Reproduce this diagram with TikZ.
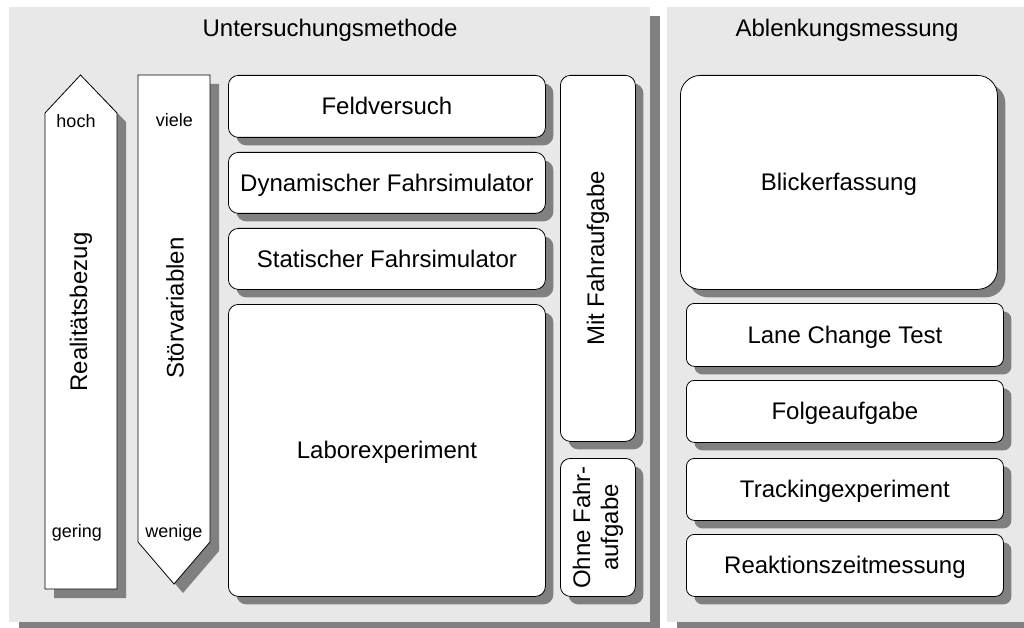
\documentclass[tikz,border=0pt]{standalone}
\usepackage{fontspec}
\setmainfont{Liberation Sans}
\usetikzlibrary{shadows}
\definecolor{panelgray}{HTML}{E8E8E8}
\definecolor{shadowgray}{HTML}{808080}

\begin{document}
\begin{tikzpicture}[x=1pt,y=-1pt,
  font=\fontsize{24}{28}\selectfont,
  boxshadow/.style={drop shadow={shadow xshift=8pt,shadow yshift=-8pt,fill=shadowgray,opacity=1}},
  panel/.style={fill=panelgray,drop shadow={shadow xshift=10pt,shadow yshift=-9pt,fill=shadowgray,opacity=1}},
  box/.style={draw=black,line width=0.8pt,fill=white,rounded corners=10pt,
    anchor=north west,inner sep=0pt,boxshadow,text height=17pt,text depth=0pt},
  arrowbody/.style={draw=black,line width=0.8pt,fill=white,
    drop shadow={shadow xshift=9pt,shadow yshift=-9pt,fill=shadowgray,opacity=1}},
  vtext/.style={rotate=90,align=center},
  small/.style={font=\fontsize{18}{21}\selectfont,anchor=base}
]
\useasboundingbox (0,0) rectangle (1024,628);

% background panels
\path[panel] (9,7) rectangle (650,622);
\path[panel] (667,7) rectangle (1030,622);

\node[anchor=base] (titleL) at (330,36.7) {Untersuchungsmethode};
\node[anchor=base] (titleR) at (847,36.7) {Ablenkungsmessung};

% scale arrows
\path[arrowbody] (45,589) -- (45,113) -- (80.5,75) -- (117,113) -- (117,589) -- cycle;
\path[arrowbody] (138,75) -- (210,75) -- (210,542) -- (174,584) -- (138,542) -- cycle;

\node[small] (hoch) at (76,128) {hoch};
\node[small] (gering) at (77,537) {gering};
\node[small] (viele) at (174.5,127) {viele};
\node[small] (wenige) at (174,537) {wenige};
\node[vtext] (real) at (81,312) {Realitätsbezug};
\node[vtext] (stoer) at (175,308) {Störvariablen};

% study methods
\node[box,minimum width=317pt,minimum height=62pt] (feld) at (228,75) {Feldversuch};
\node[box,minimum width=317pt,minimum height=61pt] (dyn) at (228,152) {Dynamischer Fahrsimulator};
\node[box,minimum width=317pt,minimum height=61pt] (stat) at (228,228) {Statischer Fahrsimulator};
\node[box,minimum width=317pt,minimum height=292pt] (labor) at (228,304) {Laborexperiment};

\node[box,minimum width=75pt,minimum height=366pt] (mit) at (560,75) {};
\node[vtext] (mittext) at (mit.center) {Mit Fahraufgabe};
\node[box,minimum width=75pt,minimum height=138pt] (ohne) at (560,458) {};
\node[vtext] (ohnetext) at (ohne.center) {Ohne Fahr-\\aufgabe};

% distraction measurement
\node[box,rounded corners=20pt,minimum width=317pt,minimum height=214pt] (blick) at (680,75) {Blickerfassung};
\node[box,rounded corners=8pt,minimum width=317pt,minimum height=63pt] (lane) at (686,303) {Lane Change Test};
\node[box,rounded corners=8pt,minimum width=317pt,minimum height=62pt] (folge) at (686,380) {Folgeaufgabe};
\node[box,rounded corners=8pt,minimum width=317pt,minimum height=62pt] (track) at (686,458) {Trackingexperiment};
\node[box,rounded corners=8pt,minimum width=317pt,minimum height=62pt] (reakt) at (686,534) {Reaktionszeitmessung};
\end{tikzpicture}
\end{document}
